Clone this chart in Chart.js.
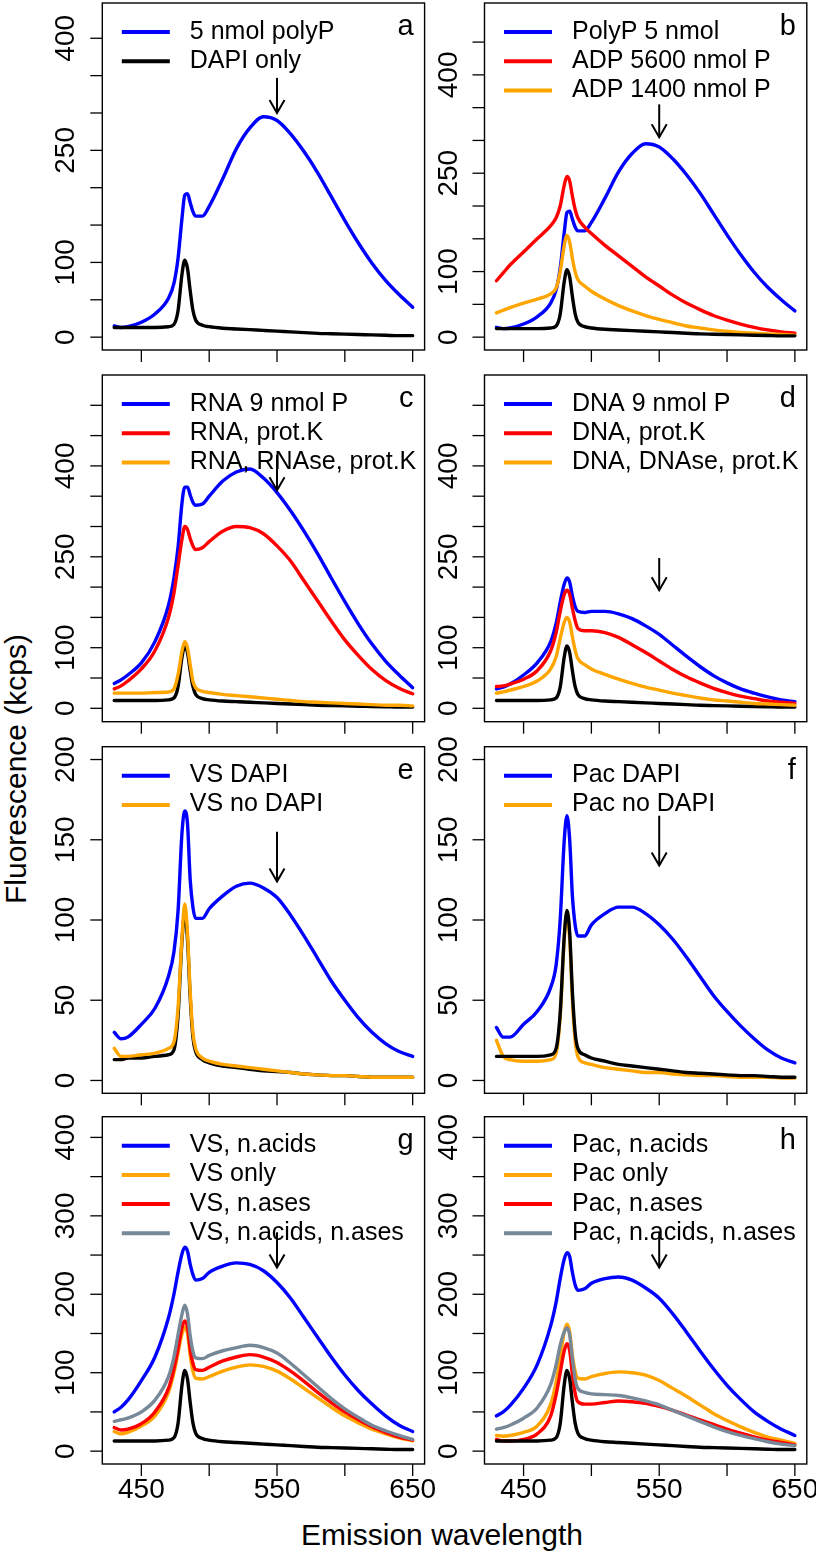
<!DOCTYPE html>
<html><head><meta charset="utf-8">
<script src="https://cdn.jsdelivr.net/npm/chart.js@4/dist/chart.umd.min.js"></script>
<style>
html,body{margin:0;padding:0;background:#fff;}
#wrap{position:relative;width:816px;height:1556px;overflow:hidden;}
#wrap canvas{position:absolute;left:0;top:0;}
.ttl{position:absolute;font-family:"Liberation Sans",Arial,Helvetica,sans-serif;font-size:30px;line-height:30px;white-space:nowrap;color:#000;}
</style></head><body><div id="wrap">
<div class="ttl" id="ytitle">Fluorescence (kcps)</div>
<div class="ttl" id="xtitle">Emission wavelength</div>
</div>
<script>
// ---------- DATA ----------
const wl = [430,435,440,450,460,470,474,477,480,482,484,486,488,490,495,500,510,520,530,540,550,560,570,580,590,600,610,620,630,640,650];

const dapiOnly      = [13,13,13,13,13,14,17,35,85,103,92,62,36,23,16,14,12,11,10,9,8,7,6,5,4.5,4,3.5,3,2.5,2,2];
const polyP5        = [15,13,14,20,31,52,72,105,160,190,192,180,168,162,162,175,212,252,280,295,290,272,248,220,188,156,126,99,76,57,40];
const adp5600       = [86,98,110,130,150,170,182,200,232,245,238,215,195,182,168,158,140,124,108,92,78,64,52,42,33,26,20,15,11,8,6];
const adp1400       = [37,41,45,52,58,66,75,100,140,155,145,120,100,88,78,70,58,48,40,33,27,22,17,14,11,9,7,6,5,4,3];
const rna9          = [41,47,55,75,110,170,215,265,340,365,365,352,340,335,337,350,375,390,395,380,356,326,292,255,215,176,139,106,78,55,34];
const rnaProtK      = [32,37,45,65,95,150,190,235,280,300,295,280,268,262,265,275,292,300,298,288,268,243,210,177,144,113,87,64,46,33,24];
const rnaRNAseProtK = [25,25,25,25,26,27,32,55,95,110,100,72,45,34,28,26,23,21,19,17,15,13,11,10,9,8,7,6,5,5,4];
const dna9          = [32,35,40,55,75,110,140,175,205,215,208,185,168,160,158,160,160,156,148,136,122,104,86,69,54,42,32,25,19,14,11];
const dnaProtK      = [36,37,40,48,62,95,125,160,188,195,188,165,145,132,128,128,125,117,105,92,78,64,52,42,33,26,20,16,12,10,8];
const dnaDNAseProtK = [25,27,30,36,45,65,85,115,142,150,142,118,96,82,72,65,56,48,41,35,30,25,21,17,14,12,10,8,7,6,5];
const vsDapi        = [30,26,27,35,45,65,80,105,155,168,160,125,108,101,101,107,115,121,123,120,114,103,90,76,62,50,39,30,23,18,15];
const vsNoDapi      = [20,15,15,16,17,20,24,45,90,110,92,55,30,20,14,12,10,9,8,7,6,5,4,3.5,3,3,2.5,2,2,2,2];
const dapiE         = [13,13,14,14,15,16,19,40,88,104,88,52,27,18,13,11,9,8,7,6,5.5,5,4,3.5,3,3,2.5,2,2,2,2];
const pacDapi       = [33,27,27,35,43,58,72,100,150,165,150,115,97,90,90,97,104,108,108,104,97,88,77,65,53,43,34,26,19,14,11];
const pacNoDapi     = [25,15,13,12,12,13,17,40,88,104,88,50,25,15,11,10,8,7,6,5,5,4,3.5,3,3,2.5,2,2,2,1.5,1.5];
const dapiF         = [15,15,15,15,15,16,20,42,90,106,92,55,30,20,16,14,12,10,9,8,7,6,5,4.5,4,3.5,3,3,2.5,2,2];
const vsNacids      = [50,56,65,90,120,170,200,228,252,260,255,238,225,218,220,228,236,240,238,230,215,195,170,145,120,97,77,60,45,33,25];
const vsOnly        = [25,22,24,32,45,75,100,125,150,158,150,122,102,93,92,95,102,107,110,108,102,92,80,68,56,45,36,28,22,17,13];
const vsNases       = [30,27,28,35,50,80,105,130,158,166,158,130,112,104,103,107,115,120,123,120,113,102,89,75,62,50,40,31,24,18,14];
const vsNacidsNases = [38,40,42,50,65,95,120,148,175,186,175,147,127,119,118,122,128,132,135,132,125,112,97,82,67,54,43,33,26,20,15];
const pacNacids     = [45,50,58,80,110,160,190,220,245,253,248,228,212,205,207,214,220,222,218,208,195,175,152,128,105,84,66,50,38,28,20];
const pacOnly       = [20,19,20,24,32,60,88,120,152,162,152,122,102,93,92,95,99,101,100,97,90,80,70,59,48,39,31,24,18,14,10];
const pacNases      = [15,13,13,15,22,45,72,100,128,137,128,98,74,63,60,60,62,64,63,61,57,52,46,40,34,28,23,18,14,11,8];
const pacNacidsNases= [28,30,33,42,55,85,110,135,152,157,148,118,92,80,75,73,72,71,68,64,59,52,45,38,31,25,20,16,12,9,7];

const xTicks = [450,500,550,600,650];
const xTickLabels = ['450','','550','','650'];
const yTicks400 = [0,50,100,150,200,250,300,350,400];
const yTicks450 = [0,50,100,150,200,250,300,350,400,450];
const yTicks500 = [0,50,100,150,200,250,300,350,400,450,500];
const yTicks200 = [0,50,100,150,200];
const yLabelsA = ['0','100','250','400'];
const yLabelsE = ['0','50','100','150','200'];
const yLabelsG = ['0','100','200','300','400'];
const arrowX = 550;
const panelLetters = ['a','b','c','d','e','f','g','h'];
const arrowsFromTo = [[347,300],[355,305],[418,360],[248,195],[155,124],[165,134],[279,234],[280,234]];
const yLimits = [[-17.2,447.2],[-19.6,509.6],[-22.1,550],[-22.1,550],[-8,208],[-8,208],[-16.4,426.4],[-16.4,426.4]];

// ---------- STYLE / LAYOUT ----------
const FONT = '"Liberation Sans", Arial, Helvetica, sans-serif';
const BLUE='#0000FF', RED='#FF0000', ORANGE='#FFA500', GRAY='#778899', BLACK='#000000';
const W = 816, H = 1556;
const colX = [[102.3,424.6],[484.5,806.8]];
const rowY = [[3,350],[375,721.7],[746.7,1093.3],[1116.7,1464]];
const xMin = 421.2, xMax = 658.8;

const panels = [
  {yTicks:yTicks400, yLabels:yLabelsA, series:[
    {label:'5 nmol polyP', values:polyP5, color:BLUE, legend:true},
    {label:'DAPI only', values:dapiOnly, color:BLACK, legend:true}]},
  {yTicks:yTicks450, yLabels:yLabelsA, series:[
    {label:'PolyP 5 nmol', values:polyP5, color:BLUE, legend:true},
    {label:'ADP 5600 nmol P', values:adp5600, color:RED, legend:true},
    {label:'ADP 1400 nmol P', values:adp1400, color:ORANGE, legend:true},
    {label:'DAPI only', values:dapiOnly, color:BLACK, legend:false}]},
  {yTicks:yTicks500, yLabels:yLabelsA, series:[
    {label:'RNA 9 nmol P', values:rna9, color:BLUE, legend:true},
    {label:'RNA, prot.K', values:rnaProtK, color:RED, legend:true},
    {label:'DAPI only', values:dapiOnly, color:BLACK, legend:false},
    {label:'RNA, RNAse, prot.K', values:rnaRNAseProtK, color:ORANGE, legend:true}]},
  {yTicks:yTicks500, yLabels:yLabelsA, series:[
    {label:'DNA 9 nmol P', values:dna9, color:BLUE, legend:true},
    {label:'DNA, prot.K', values:dnaProtK, color:RED, legend:true},
    {label:'DAPI only', values:dapiOnly, color:BLACK, legend:false},
    {label:'DNA, DNAse, prot.K', values:dnaDNAseProtK, color:ORANGE, legend:true}]},
  {yTicks:yTicks200, yLabels:yLabelsE, series:[
    {label:'VS DAPI', values:vsDapi, color:BLUE, legend:true},
    {label:'DAPI only', values:dapiE, color:BLACK, legend:false},
    {label:'VS no DAPI', values:vsNoDapi, color:ORANGE, legend:true}]},
  {yTicks:yTicks200, yLabels:yLabelsE, series:[
    {label:'Pac DAPI', values:pacDapi, color:BLUE, legend:true},
    {label:'Pac no DAPI', values:pacNoDapi, color:ORANGE, legend:true},
    {label:'DAPI only', values:dapiF, color:BLACK, legend:false}]},
  {yTicks:yTicks400, yLabels:yLabelsG, series:[
    {label:'VS, n.acids', values:vsNacids, color:BLUE, legend:true},
    {label:'VS only', values:vsOnly, color:ORANGE, legend:true},
    {label:'VS, n.ases', values:vsNases, color:RED, legend:true},
    {label:'VS, n.acids, n.ases', values:vsNacidsNases, color:GRAY, legend:true},
    {label:'DAPI only', values:dapiOnly, color:BLACK, legend:false}]},
  {yTicks:yTicks400, yLabels:yLabelsG, series:[
    {label:'Pac, n.acids', values:pacNacids, color:BLUE, legend:true},
    {label:'Pac only', values:pacOnly, color:ORANGE, legend:true},
    {label:'Pac, n.ases', values:pacNases, color:RED, legend:true},
    {label:'Pac, n.acids, n.ases', values:pacNacidsNases, color:GRAY, legend:true},
    {label:'DAPI only', values:dapiOnly, color:BLACK, legend:false}]}
];

const deco = {
  id: 'deco',
  afterDraw(chart, args, o) {
    const ctx = chart.ctx;
    const {left, right, top, bottom} = chart.chartArea;
    const xs = chart.scales.x, ys = chart.scales.y;
    ctx.save();
    ctx.strokeStyle = '#000'; ctx.fillStyle = '#000';
    ctx.lineWidth = 1.4;
    ctx.strokeRect(left, top, right - left, bottom - top);
    // x ticks
    ctx.lineWidth = 1.3;
    ctx.font = '28px ' + FONT;
    ctx.textAlign = 'center'; ctx.textBaseline = 'alphabetic';
    xTicks.forEach((v, i) => {
      const px = xs.getPixelForValue(v);
      ctx.beginPath(); ctx.moveTo(px, bottom); ctx.lineTo(px, bottom + 12); ctx.stroke();
      if (o.xLabels && xTickLabels[i]) ctx.fillText(xTickLabels[i], px, bottom + 34);
    });
    // y ticks
    o.yTicks.forEach(v => {
      const py = ys.getPixelForValue(v);
      ctx.beginPath(); ctx.moveTo(left - 12, py); ctx.lineTo(left, py); ctx.stroke();
    });
    o.yLabels.forEach(t => {
      const py = ys.getPixelForValue(Number(t));
      ctx.save();
      ctx.translate(left - 28, py);
      ctx.rotate(-Math.PI / 2);
      ctx.textAlign = 'center'; ctx.textBaseline = 'alphabetic';
      ctx.fillText(t, 0, 0);
      ctx.restore();
    });
    // legend
    ctx.font = '25px ' + FONT;
    ctx.textAlign = 'left';
    let row = 0;
    o.series.forEach(s => {
      if (!s.legend) return;
      const ly = top + 29 + row * 29.2;
      ctx.strokeStyle = s.color; ctx.lineWidth = 4; ctx.lineCap = 'butt';
      ctx.beginPath(); ctx.moveTo(left + 19.5, ly); ctx.lineTo(left + 67.5, ly); ctx.stroke();
      ctx.fillStyle = '#000';
      ctx.fillText(s.label, left + 87.5, ly + 6.5);
      row++;
    });
    // panel letter
    ctx.font = '29px ' + FONT;
    ctx.textAlign = 'right';
    ctx.fillText(o.letter, right - 11, top + 32);
    // arrow
    const ax = xs.getPixelForValue(arrowX);
    const y1 = ys.getPixelForValue(o.arrow[0]), y2 = ys.getPixelForValue(o.arrow[1]);
    ctx.strokeStyle = '#000'; ctx.lineWidth = 2;
    ctx.beginPath(); ctx.moveTo(ax, y1); ctx.lineTo(ax, y2); ctx.stroke();
    ctx.beginPath(); ctx.moveTo(ax - 7.5, y2 - 13); ctx.lineTo(ax, y2); ctx.lineTo(ax + 7.5, y2 - 13); ctx.stroke();
    ctx.restore();
  }
};

const wrap = document.getElementById('wrap');
panels.forEach((p, k) => {
  const col = k % 2, row = Math.floor(k / 2);
  const area = {left: colX[col][0], right: colX[col][1], top: rowY[row][0], bottom: rowY[row][1]};
  const cv = document.createElement('canvas');
  cv.width = W; cv.height = H;
  cv.style.width = W + 'px'; cv.style.height = H + 'px';
  wrap.appendChild(cv);
  const n = p.series.length;
  new Chart(cv, {
    type: 'line',
    data: {
      datasets: p.series.map((s, i) => ({
        label: s.label,
        data: wl.map((x, j) => ({x: x, y: s.values[j]})),
        borderColor: s.color, backgroundColor: s.color,
        borderWidth: 3.4, pointRadius: 0, fill: false,
        cubicInterpolationMode: 'monotone', borderJoinStyle: 'round', borderCapStyle: 'round',
        order: n - i
      }))
    },
    options: {
      responsive: false, animation: false, events: [],
      devicePixelRatio: 1,
      layout: {padding: {left: area.left, top: area.top, right: W - area.right, bottom: H - area.bottom}},
      scales: {
        x: {type: 'linear', min: xMin, max: xMax, display: false},
        y: {type: 'linear', min: yLimits[k][0], max: yLimits[k][1], display: false}
      },
      plugins: {
        legend: {display: false}, tooltip: {enabled: false},
        deco: {yTicks: p.yTicks, yLabels: p.yLabels, series: p.series, letter: panelLetters[k],
               arrow: arrowsFromTo[k], xLabels: row === 3}
      }
    },
    plugins: [deco]
  });
});

// outer titles
const yt = document.getElementById('ytitle');
yt.style.left = '15.5px'; yt.style.top = '769px';
yt.style.transform = 'translate(-50%,-50%) rotate(-90deg)';
const xt = document.getElementById('xtitle');
xt.style.left = '442px'; xt.style.top = '1520px';
xt.style.transform = 'translateX(-50%)';
</script>
</body></html>
